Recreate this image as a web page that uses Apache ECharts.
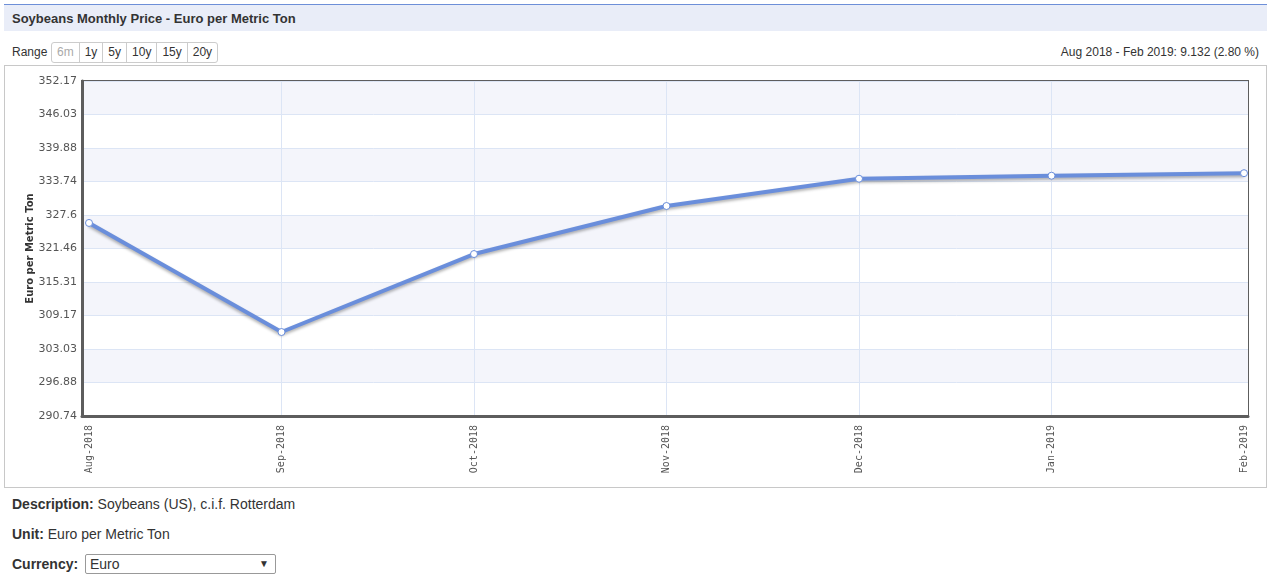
<!DOCTYPE html>
<html>
<head>
<meta charset="utf-8">
<script src="https://cdn.jsdelivr.net/npm/echarts@6/dist/echarts.min.js"></script>
<style>
  body { margin:0; background:#fff; font-family:"Liberation Sans", Arial, sans-serif; color:#333; width:1271px; height:581px; position:relative; overflow:hidden; }
  #titlebar { position:absolute; left:4px; top:4px; width:1263px; height:27px; border-top:1px solid #6d8fd8; background:#e9edf8; box-sizing:border-box; }
  #titlebar span { position:absolute; left:8px; top:6px; font-size:13px; font-weight:bold; color:#333; }
  #rangeLabel { position:absolute; left:12px; top:45px; font-size:12px; color:#333; }
  #btns { position:absolute; left:51px; top:42px; height:21px; display:flex; border:1px solid #ccc; border-radius:3px; box-sizing:border-box; }
  #btns div { font-size:12px; color:#333; padding:0 5px; line-height:19px; border-left:1px solid #ccc; }
  #btns div:first-child { border-left:none; color:#aaa; }
  #change { position:absolute; right:12px; top:45px; font-size:12px; color:#333; }
  #box { position:absolute; left:4px; top:65px; width:1263px; height:423px; border:1px solid #c8c8c8; box-sizing:border-box; }
  #chart { position:absolute; left:5px; top:66px; width:1261px; height:421px; }
  .info { position:absolute; left:12px; font-size:14px; color:#333; }
  .info b { color:#333; }
  #sel { position:absolute; left:85px; top:554px; width:191px; height:20px; border:1px solid #999; box-sizing:border-box; font-size:14px; line-height:18px; padding-left:4px; border-radius:2px; }
  #sel i { position:absolute; right:6px; top:0; font-style:normal; font-size:10px; }
</style>
</head>
<body>
<div id="titlebar"><span>Soybeans Monthly Price - Euro per Metric Ton</span></div>
<div id="rangeLabel">Range</div>
<div id="btns"><div>6m</div><div>1y</div><div>5y</div><div>10y</div><div>15y</div><div>20y</div></div>
<div id="change">Aug 2018 - Feb 2019: 9.132 (2.80 %)</div>
<div id="box"></div>
<div id="chart"></div>
<div class="info" style="top:496px"><b>Description:</b> Soybeans (US), c.i.f. Rotterdam</div>
<div class="info" style="top:526px"><b>Unit:</b> Euro per Metric Ton</div>
<div class="info" style="top:556px"><b>Currency:</b></div>
<div id="sel">Euro<i>&#9660;</i></div>
<script>
// ---- data ----
const categories = ["Aug-2018", "Sep-2018", "Oct-2018", "Nov-2018", "Dec-2018", "Jan-2019", "Feb-2019"];
const prices = [326.14, 306.14, 320.44, 329.25, 334.25, 334.80, 335.27];
const yTickLabels = [290.74, 296.88, 303.03, 309.17, 315.31, 321.46, 327.6, 333.74, 339.88, 346.03, 352.17];
const yAxisName = "Euro per Metric Ton";

const yMin = yTickLabels[0];
const yMax = yTickLabels[yTickLabels.length - 1];
const yStep = (yMax - yMin) / (yTickLabels.length - 1);

const chart = echarts.init(document.getElementById('chart'), null, { renderer: 'canvas' });
const frameColor = '#5d5d5d';
const gridLineColor = '#dce5f5';

chart.setOption({
  animation: false,
  grid: [
    { left: 77, top: 15, width: 1166, height: 335, show: true, borderColor: frameColor, borderWidth: 2, backgroundColor: 'transparent' },
    { left: 84, top: 15, width: 1155, height: 335, show: false }
  ],
  xAxis: [
    { gridIndex: 0, type: 'value', min: 0, max: 1, axisLabel: { show: false }, axisTick: { show: false }, splitLine: { show: false },
      axisLine: { show: true, lineStyle: { color: frameColor, width: 3 } }, z: 2 },
    { gridIndex: 1, type: 'category', data: categories, boundaryGap: false,
      axisLine: { show: false }, axisTick: { show: false },
      splitLine: { show: true, interval: function (i) { return i > 0 && i < categories.length - 1; },
        lineStyle: { color: gridLineColor, width: 1 } },
      axisLabel: { rotate: 90, margin: 9, fontSize: 10, color: '#555', fontFamily: 'DejaVu Sans Mono', interval: 0 },
      z: 1 }
  ],
  yAxis: [
    { gridIndex: 0, type: 'value', min: yMin, max: yMax, interval: yStep,
      name: yAxisName, nameLocation: 'middle', nameRotate: 90, nameGap: 47, nameMoveOverlap: false,
      nameTextStyle: { fontSize: 10, fontWeight: 'bold', color: '#333', fontFamily: 'DejaVu Sans' },
      axisLine: { show: true, lineStyle: { color: frameColor, width: 3 } },
      axisTick: { show: false },
      axisLabel: { margin: 5, fontSize: 11, color: '#555', fontFamily: 'DejaVu Sans',
        formatter: function (v) {
          let best = yTickLabels[0], d = Infinity;
          yTickLabels.forEach(t => { const dd = Math.abs(t - v); if (dd < d) { d = dd; best = t; } });
          return String(best);
        } },
      splitLine: { show: true, lineStyle: { color: gridLineColor, width: 1 } },
      splitArea: { show: true, areaStyle: { color: ['#ffffff', '#f4f5fb'] } },
      z: 0 },
    { gridIndex: 1, type: 'value', min: yMin, max: yMax, interval: yStep, show: false,
      splitLine: { show: false } }
  ],
  series: [{
    type: 'line', xAxisIndex: 1, yAxisIndex: 1, data: prices,
    symbol: 'circle', symbolSize: 7, showSymbol: true,
    lineStyle: { color: '#6a8edb', width: 4, shadowColor: 'rgba(0,0,0,0.3)', shadowBlur: 3, shadowOffsetY: 2 },
    itemStyle: { color: '#ffffff', borderColor: '#6a8edb', borderWidth: 1 },
    z: 5
  }]
});
</script>
</body>
</html>
